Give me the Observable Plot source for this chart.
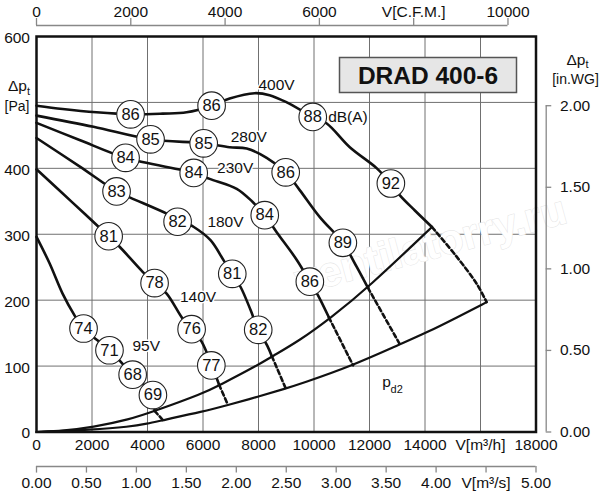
<!DOCTYPE html>
<html><head><meta charset="utf-8">
<script src="https://cdn.jsdelivr.net/npm/d3@7"></script>
<script src="https://cdn.jsdelivr.net/npm/@observablehq/plot@0.6"></script>
<style>
body{margin:0;background:#fff;}
#chart{width:600px;height:500px;}
</style></head><body><div id="chart"></div>
<script>
// unit conversions
const CFM = 1.699;    // m3/h per CFM
const INWG = 247.5;   // Pa per in.WG (as drawn on the chart)
const M3S = 3600;     // m3/h per m3/s

// fan curves (flow m3/h, total pressure Pa)
const q400 = [0, 940, 2160, 3390, 4545, 5410, 6310, 6960, 7860, 8400, 9020, 9955, 10460, 11290, 12265, 12770, 13095, 13635, 14250];
const p400 = [495, 490, 485, 482, 483, 485, 495, 506, 514, 511, 500, 478, 468, 432, 400, 377, 359, 336, 311];
const q280 = [0, 2055, 4110, 6025, 6960, 7575, 8295, 8980, 9485, 10210, 11040, 11545, 11940];
const p280 = [480, 463, 444, 438, 432, 430, 416, 394, 367, 326, 287, 250, 219];
const q230 = [0, 1550, 3210, 5665, 6240, 7215, 7790, 8225, 8655, 9380, 9850, 10135, 10535];
const p230 = [469, 443, 416, 393, 384, 369, 349, 329, 303, 261, 228, 208, 174];
const q180 = [0, 1550, 2885, 3355, 4710, 5670, 6270, 6750, 7055, 7355, 7715, 7990, 8315, 8480];
const p180 = [446, 403, 365, 356, 331, 311, 291, 260, 240, 220, 185, 155, 131, 115];
const q140 = [0, 1300, 2600, 2995, 3825, 4255, 4690, 5265, 5590, 5950, 6310, 6577];
const p140 = [398.5, 348, 297, 281, 243, 226, 210, 172, 156, 137, 101.5, 72];
const q95 = [0, 470, 940, 1370, 1695, 2630, 3465, 4150, 4256];
const p95 = [296, 256, 210, 177, 157, 124, 87, 57.6, 32];

// dashed continuations
const dq400 = [14250, 15140, 15860, 16220]; const dp400 = [311, 266, 225, 197];
const dq280 = [11940, 13095]; const dp280 = [219, 133];
const dq230 = [10535, 11410]; const dp230 = [174, 101];
const dq180 = [8480, 8982];   const dp180 = [115, 66];
const dq140 = [6577, 6900];   const dp140 = [72, 41];
const dq95  = [4256, 4556];   const dp95  = [32, 18];

// system curves
const upperQ = [0, 1000, 2000, 3355, 4256, 6000, 6600, 7980, 8465, 9487, 10570, 11950, 14250];
const upperP = [0, 2, 7, 19, 31.8, 58.6, 71, 101.5, 114, 139, 172, 219, 311];
const lowerQ = [0, 2000, 3355, 3980, 4556, 6000, 6900, 7980, 8982, 9487, 11410, 13095, 14020, 15160, 16220];
const lowerP = [0, 3.5, 8, 12.5, 18, 31, 41, 53.5, 66, 72.5, 101, 133, 150, 174, 197];

// sound level circles
const dbQ = [3390, 6310, 9955, 12770, 4110, 6025, 8980, 11040, 3210, 5665, 8225, 9850, 2885, 5085, 7055, 7990, 2600, 4255, 5590, 6300, 1695, 2630, 3465, 4195];
const dbP = [482, 495, 478, 377, 444, 438, 394, 287, 416, 393, 329, 228, 365, 319, 240, 155, 297, 226, 156, 101, 157, 124, 87, 56];
const dbText = ["86","86","88","92","85","85","86","89","84","84","84","86","83","82","81","82","81","78","76","77","74","71","68","69"];

// voltage labels
const voltText = ["400V","280V","230V","180V","140V","95V"];
const voltQ = [8650, 7650, 7160, 6810, 5820, 3955];
const voltP = [527, 448, 401, 318.6, 205, 130];

// axes
const gridX = [2000, 4000, 6000, 8000, 10000, 12000, 14000, 16000];
const gridY = [100, 200, 300, 400, 500];
const m3hTicks = [0, 2000, 4000, 6000, 8000, 10000, 12000, 14000, 16000, 18000];
const m3hLabels = ["0","2000","4000","6000","8000","10000","12000","14000","V[m³/h]","18000"];
const paTicks = [0, 100, 200, 300, 400, 600];
const paLabels = ["0","100","200","300","400","600"];
const cfmTicks = [0, 2000, 4000, 6000, 8000, 10000];
const cfmLabels = ["0","2000","4000","6000","V[C.F.M.]","10000"];
const inwgTicks = [0, 0.5, 1, 1.5, 2];
const inwgLabels = ["0.00","0.50","1.00","1.50","2.00"];
const m3sTicks = [0, 0.5, 1, 1.5, 2, 2.5, 3, 3.5, 4, 4.5, 5];
const m3sLabels = ["0.00","0.50","1.00","1.50","2.00","2.50","3.00","3.50","4.00","V[m³/s]","5.00"];

function pts(name, qs, ps) { return qs.map((q, i) => ({name, q, p: ps[i]})); }
const fanRows = [
  ...pts("400V", q400, p400), ...pts("280V", q280, p280), ...pts("230V", q230, p230),
  ...pts("180V", q180, p180), ...pts("140V", q140, p140), ...pts("95V", q95, p95)
];
const dashRows = [
  ...pts("400V", dq400, dp400), ...pts("280V", dq280, dp280), ...pts("230V", dq230, dp230),
  ...pts("180V", dq180, dp180), ...pts("140V", dq140, dp140), ...pts("95V", dq95, dp95)
];
const sysRows = [...pts("upper", upperQ, upperP), ...pts("lower", lowerQ, lowerP)];
const dbRows = dbQ.map((q, i) => ({q, p: dbP[i], t: dbText[i]}));
const voltRows = voltQ.map((q, i) => ({q, p: voltP[i], t: voltText[i]}));

const FS = 15.5;
const INK = "#111";
const AXC = "#888";

const chart = Plot.plot({
  width: 600, height: 500,
  marginLeft: 36, marginRight: 64.5, marginTop: 36, marginBottom: 68.5,
  style: {fontFamily: "'Liberation Sans', Arial, sans-serif", background: "#fff", color: INK},
  x: {domain: [0, 18000], axis: null},
  y: {domain: [0, 600], axis: null},
  marks: [
    // grid
    Plot.ruleX(gridX, {x: d => d, stroke: "#707070", strokeWidth: 1}),
    Plot.ruleY(gridY, {y: d => d, stroke: "#707070", strokeWidth: 1}),
    // watermark
    Plot.text(["ventilatorry.ru"], {x: () => 14200, y: () => 283, text: d => d, rotate: -15,
      fontSize: 42, fill: "white", stroke: "#e4e4e4", strokeWidth: 1, fontWeight: "bold"}),
    // system curves
    Plot.line(sysRows, {x: "q", y: "p", z: "name", stroke: INK, strokeWidth: 2.2, curve: "basis"}),
    // dashed ends
    Plot.line(dashRows, {x: "q", y: "p", z: "name", stroke: INK, strokeWidth: 2.6, strokeDasharray: "4.5,3", curve: "catmull-rom"}),
    // fan curves
    Plot.line(fanRows, {x: "q", y: "p", z: "name", stroke: INK, strokeWidth: 2.6, curve: "catmull-rom"}),
    // frame
    Plot.frame({stroke: INK, strokeWidth: 2.5}),
    // dB circles
    Plot.dot(dbRows, {x: "q", y: "p", r: 13.8, fill: "white", stroke: "#222", strokeWidth: 1.1}),
    Plot.text(dbRows, {x: "q", y: "p", text: "t", fontSize: 16.5, fill: INK}),
    Plot.text(["dB(A)"], {x: () => 10510, y: () => 478, text: d => d, textAnchor: "start", fontSize: FS, fill: INK}),
    // voltage labels
    Plot.text(voltRows, {x: "q", y: "p", text: "t", fontSize: FS, fill: INK, stroke: "white", strokeWidth: 3, paintOrder: "stroke"}),
    // p_d2
    Plot.text(["p"], {x: () => 12614, y: () => 75.6, text: d => d, fontSize: FS, fill: INK}),
    Plot.text(["d2"], {x: () => 12614, y: () => 75.6, text: d => d, fontSize: 11, dx: 4, dy: 7.5, textAnchor: "start", fill: INK}),
    // left axis labels
    Plot.text(paTicks, {x: () => 0, y: d => d, text: (d, i) => paLabels[i], textAnchor: "end", dx: -6.5, dy: 1.5, fontSize: FS, fill: INK}),
    Plot.text(["Δp"], {x: () => 0, y: () => 500, text: d => d, textAnchor: "end", dx: -9.5, dy: -16, fontSize: FS, fill: INK}),
    Plot.text(["t"], {x: () => 0, y: () => 500, text: d => d, textAnchor: "start", dx: -9.5, dy: -11, fontSize: 11, fill: INK}),
    Plot.text(["[Pa]"], {x: () => 0, y: () => 500, text: d => d, dx: -19.5, dy: 4.5, fontSize: 14, fill: INK}),
    // bottom m3/h labels
    Plot.text(m3hTicks, {x: d => d, y: () => 0, text: (d, i) => m3hLabels[i], dy: 13, fontSize: FS, fill: INK}),
    // bottom m3/s axis
    Plot.ruleY([0], {x1: () => 0, x2: () => 5 * M3S, dy: 34.5, stroke: AXC, strokeWidth: 1.3}),
    Plot.ruleX(m3sTicks, {x: d => d * M3S, y1: () => 0, y2: () => -10, dy: 34.5, stroke: AXC, strokeWidth: 1.3}),
    Plot.text(m3sTicks, {x: d => d * M3S, y: () => 0, text: (d, i) => m3sLabels[i], dy: 51, fontSize: FS, fill: INK}),
    // top CFM axis
    Plot.ruleY([600], {x1: () => 0, x2: () => 10000 * CFM, dy: -11, stroke: AXC, strokeWidth: 1.3}),
    Plot.ruleX(cfmTicks, {x: d => d * CFM, y1: () => 600, y2: () => 610.6, dy: -11, stroke: AXC, strokeWidth: 1.3}),
    Plot.text(cfmTicks, {x: d => d * CFM, y: () => 600, text: (d, i) => cfmLabels[i], dy: -24, fontSize: FS, fill: INK}),
    // right in.WG axis
    Plot.ruleX([18000], {x: d => d, y1: () => 0, y2: () => 2 * INWG, dx: 10.2, stroke: AXC, strokeWidth: 1.3}),
    Plot.ruleY(inwgTicks, {y: d => d * INWG, x1: () => 18000, x2: () => 18200, dx: 10.2, stroke: AXC, strokeWidth: 1.3}),
    Plot.text(inwgTicks, {x: () => 18000, y: d => d * INWG, text: (d, i) => inwgLabels[i], textAnchor: "start", dx: 24, fontSize: FS, fill: INK}),
    Plot.text(["Δp"], {x: () => 18000, y: () => 600, text: d => d, textAnchor: "end", dx: 49.5, dy: 23.5, fontSize: FS, fill: INK}),
    Plot.text(["t"], {x: () => 18000, y: () => 600, text: d => d, textAnchor: "start", dx: 49.5, dy: 27.5, fontSize: 11, fill: INK}),
    Plot.text(["[in.WG]"], {x: () => 18000, y: () => 600, text: d => d, dx: 39.5, dy: 43, fontSize: 14, fill: INK})
  ]
});

// title box
const svg = d3.select(chart);
svg.append("rect").attr("x", 339.5).attr("y", 57.5).attr("width", 177).attr("height", 35)
  .attr("fill", "#e6e6e6").attr("stroke", "#555").attr("stroke-width", 1.5);
svg.append("text").attr("x", 428).attr("y", 75).attr("text-anchor", "middle").attr("dominant-baseline", "central")
  .attr("font-weight", "bold").attr("font-size", 24.5).attr("fill", INK)
  .attr("font-family", "'Liberation Sans', Arial, sans-serif").text("DRAD 400-6");

document.getElementById("chart").appendChild(chart);
</script>
</body></html>
